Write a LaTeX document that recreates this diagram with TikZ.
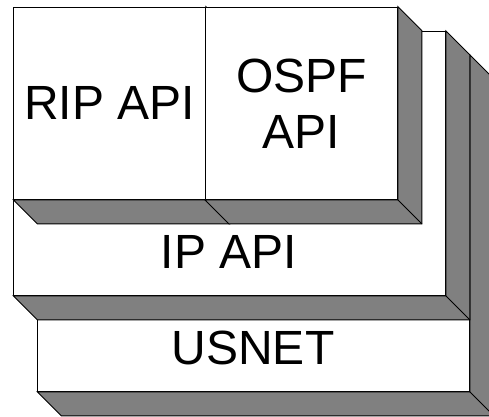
\documentclass[tikz,border=0pt]{standalone}
\usepackage{fontspec}
\setmainfont{Liberation Sans}
\definecolor{shade}{gray}{0.5}
\tikzset{
  face/.style={draw, fill=white, inner sep=0pt, anchor=north west, align=center, font=\bigtext},
  side/.style={draw, fill=shade},
  layername/.style={inner sep=0pt, font=\bigtext},
}
\newcommand{\bigtext}{\fontsize{48}{56}\selectfont}
% the grey depth faces below and right of a box
\newcommand{\extrude}[1]{%
  \filldraw[side] (#1.south west) -- ++(24,24) -| ([shift={(24,24)}]#1.north east)
    -- (#1.north east) -- (#1.south east) -- cycle;
  \draw (#1.south east) -- ++(24,24);}
\begin{document}
\begin{tikzpicture}[x=1pt,y=-1pt,line width=0.9pt]
\clip (0,0) rectangle (489,416);
% bottom layer
\node[face, minimum width=431.7pt, minimum height=336pt] (usnet) at (37.3,55) {};
\extrude{usnet}
\node[layername] (usnetname) at (253,348) {USNET};
% middle layer
\node[face, minimum width=431.7pt, minimum height=264pt] (ip) at (13.3,31) {};
\extrude{ip}
\node[layername] (ipname) at (229,252) {IP API};
% top layer
\node[face, minimum width=191.7pt, minimum height=192.3pt] (rip) at (13.3,6.7) {RIP API};
\extrude{rip}
\node[face, minimum width=192pt, minimum height=192.3pt] (ospf) at (205,6.7) {OSPF\\API};
\extrude{ospf}
\end{tikzpicture}
\end{document}
